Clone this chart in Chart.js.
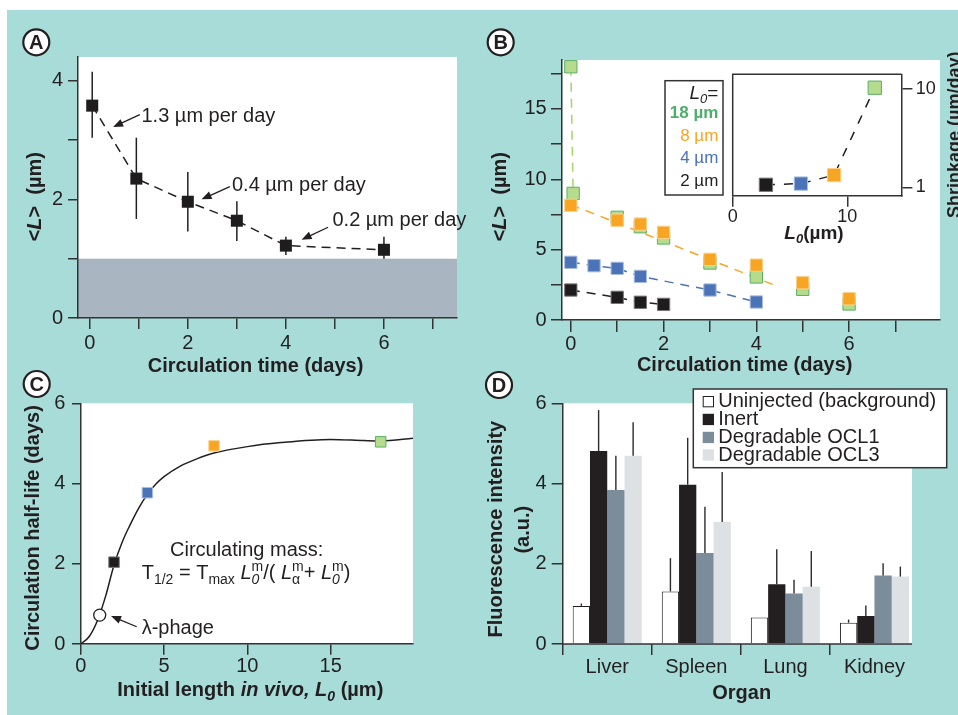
<!DOCTYPE html>
<html>
<head>
<meta charset="utf-8">
<title>Filament circulation</title>
<script src="https://cdn.jsdelivr.net/npm/chart.js@4.4.1/dist/chart.umd.min.js"></script>
<style>
  html, body { margin: 0; padding: 0; background: #ffffff; }
  #figure { position: relative; width: 958px; height: 715px; overflow: hidden; }
  #backdrop { position: absolute; left: 7px; top: 10px; width: 951px; height: 705px; background: #a8dcd8; }
  canvas { position: absolute; }
</style>
</head>
<body>
<div id="figure">
  <div id="backdrop"></div>
  <canvas id="chartA" width="480" height="385" style="left:0;top:0"></canvas>
  <canvas id="chartB" width="478" height="385" style="left:480px;top:0"></canvas>
  <canvas id="insetB" width="258" height="240" style="left:700px;top:20px"></canvas>
  <canvas id="chartC" width="480" height="350" style="left:0;top:365px"></canvas>
  <canvas id="chartD" width="478" height="350" style="left:480px;top:365px"></canvas>
</div>
<script>
// panel A - mean length vs circulation time
const daysA = [0.05, 0.95, 2, 3, 4, 6];
const lengthA = [3.58, 2.35, 1.96, 1.64, 1.22, 1.15];
const errHighA = [4.15, 3.04, 2.46, 1.97, 1.37, 1.37];
const errLowA = [3.04, 1.67, 1.46, 1.30, 1.06, 1.00];
const bandA = [0, 1];
const ratesA = ['1.3 µm per day', '0.4 µm per day', '0.2 µm per day'];
const xTicksA = [0, 1, 2, 3, 4, 5, 6, 7];
const xLabelsA = [0, 2, 4, 6];
const yTicksA = [0, 1, 2, 3, 4];
const yLabelsA = [0, 2, 4];

// panel B - one series per initial length
const days18 = [0, 0.05, 1, 1.5, 2, 3, 4, 5, 6];
const len18 = [18, 9, 7.3, 6.63, 5.83, 4.05, 3.06, 2.18, 1.14];
const days8 = [0, 1, 1.5, 2, 3, 4, 5, 6];
const len8 = [8.15, 7.09, 6.82, 6.23, 4.31, 3.9, 2.65, 1.51];
const fitDays8 = [0, 4.35];
const fitLen8 = [8.2, 2.53];
const days4 = [0, 0.5, 1, 1.5, 3, 4];
const len4 = [4.1, 3.86, 3.67, 3.1, 2.13, 1.28];
const days2 = [0, 1, 1.5, 2];
const len2 = [2.13, 1.61, 1.26, 1.11];
const legendB = ['18 µm', '8 µm', '4 µm', '2 µm'];
const xTicksB = [0, 1, 2, 3, 4, 5, 6, 7];
const xLabelsB = [0, 2, 4, 6];
const yTicksB = [0, 2.5, 5, 7.5, 10, 12.5, 15, 17.5];
const yLabelsB = [0, 5, 10, 15];

// inset of B - shrinkage rate
const insetL0 = [2.9, 5.95, 8.85, 12.4];
const insetShrink = [1.06, 1.09, 1.33, 10.3];
const insetXTicks = [0, 10];
const insetYTicks = [1, 10];

// panel C - half-life vs initial length
const curveL0 = [0, 0.5, 1, 1.5, 2, 2.5, 3, 3.5, 4, 4.5, 5, 6, 7, 8, 10, 12, 15, 17, 18, 20];
const curveHalfLife = [0, 0.18, 0.58, 1.2, 1.97, 2.55, 3.0, 3.4, 3.73, 3.98, 4.17, 4.44, 4.62, 4.76, 4.92, 5.02, 5.1, 5.07, 5.06, 5.13];
const halfLifeL0 = [2, 4, 8, 18];
const halfLifeDays = [2.04, 3.77, 4.94, 5.04];
const phageL0 = [1.14];
const phageDays = [0.72];
const xTicksC = [0, 5, 10, 15];
const yTicksC = [0, 2, 4, 6];

// panel D - organ fluorescence
const organs = ['Liver', 'Spleen', 'Lung', 'Kidney'];
const seriesD = ['Uninjected (background)', 'Inert', 'Degradable OCL1', 'Degradable OCL3'];
const uninjected = [0.95, 1.31, 0.66, 0.53];
const inert = [4.81, 3.97, 1.49, 0.70];
const ocl1 = [3.84, 2.27, 1.26, 1.71];
const ocl3 = [4.69, 3.04, 1.43, 1.68];
const errUninjected = [1.01, 2.14, 0.66, 0.61];
const errInert = [5.83, 5.14, 2.36, 0.96];
const errOcl1 = [4.69, 3.42, 1.60, 2.01];
const errOcl3 = [5.53, 4.29, 2.32, 1.93];
const yTicksD = [0, 2, 4, 6];

const FONT = '"Liberation Sans", Arial, Helvetica, sans-serif';
const INK = '#231f20';
const AXIS = '#333333';
const GREEN = '#b5dc8c', GREEN_EDGE = '#5aae6a', GREEN_LINE = '#a6d36a', GREEN_TEXT = '#4dae6b';
const ORANGE = '#f8a523';
const BLUE = '#4b73b8';
const BLACK = '#1f1c1d';

Chart.defaults.font.family = FONT;
Chart.defaults.font.size = 20;
Chart.defaults.color = INK;
Chart.defaults.animation = false;
Chart.defaults.events = [];
Chart.defaults.plugins.legend.display = false;
Chart.defaults.plugins.tooltip.enabled = false;

function pts(xs, ys) {
    return xs.map((x, i) => ({ x: x, y: ys[i] }));
}

function axis(pos, min, max, tickVals, labelVals, boxSize, tickLen, pad, fontSize, type) {
    return {
        type: type || 'linear',
        position: pos,
        min: min,
        max: max,
        afterBuildTicks: s => { s.ticks = tickVals.map(v => ({ value: v })); },
        afterFit: s => {
            if (pos === 'left' || pos === 'right') s.width = boxSize;
            else s.height = boxSize;
        },
        ticks: {
            padding: pad,
            color: INK,
            font: { size: fontSize || 20 },
            autoSkip: false,
            maxRotation: 0,
            callback: v => labelVals.includes(v) ? String(v) : ''
        },
        grid: { drawOnChartArea: false, tickLength: tickLen, color: AXIS, lineWidth: 1.5 },
        border: { color: AXIS, width: 1.5 }
    };
}

function fontOf(flags, size) {
    const small = flags.includes('_') || flags.includes('^');
    const s = small ? Math.round(size * 0.68) : size;
    return (flags.includes('i') ? 'italic ' : '') + (flags.includes('b') ? 'bold ' : '') + s + 'px ' + FONT;
}

// parts: [text, flags]  b bold, i italic, _ sub, ^ sup, k keep (no advance, next part stacks on it)
function drawRich(ctx, parts, x, y, size, align, angle, color) {
    ctx.save();
    ctx.translate(x, y);
    if (angle) ctx.rotate(angle);
    ctx.textBaseline = 'middle';
    ctx.textAlign = 'left';
    ctx.fillStyle = color || INK;
    const widths = parts.map(p => { ctx.font = fontOf(p[1] || '', size); return ctx.measureText(p[0]).width; });
    let total = 0, held = 0;
    parts.forEach((p, i) => {
        if ((p[1] || '').includes('k')) { held = widths[i]; return; }
        total += Math.max(widths[i], held);
        held = 0;
    });
    let cx = align === 'center' ? -total / 2 : align === 'right' ? -total : 0;
    held = 0;
    parts.forEach((p, i) => {
        const f = p[1] || '';
        ctx.font = fontOf(f, size);
        const dy = f.includes('_') ? size * 0.32 : f.includes('^') ? -size * 0.32 : 0;
        ctx.fillText(p[0], cx, dy);
        if (f.includes('k')) { held = widths[i]; return; }
        cx += Math.max(widths[i], held);
        held = 0;
    });
    ctx.restore();
}

function drawLetter(ctx, letter, x, y) {
    ctx.save();
    ctx.beginPath();
    ctx.arc(x, y, 13, 0, Math.PI * 2);
    ctx.fillStyle = '#ffffff';
    ctx.fill();
    ctx.lineWidth = 2.2;
    ctx.strokeStyle = INK;
    ctx.stroke();
    ctx.fillStyle = INK;
    ctx.font = 'bold 20px ' + FONT;
    ctx.textAlign = 'center';
    ctx.textBaseline = 'middle';
    ctx.fillText(letter, x, y + 1);
    ctx.restore();
}

function drawArrow(ctx, x1, y1, x2, y2) {
    const a = Math.atan2(y2 - y1, x2 - x1), L = 10, W = 4;
    ctx.save();
    ctx.strokeStyle = INK;
    ctx.fillStyle = INK;
    ctx.lineWidth = 1.3;
    ctx.beginPath();
    ctx.moveTo(x1, y1);
    ctx.lineTo(x2 - Math.cos(a) * L * 0.8, y2 - Math.sin(a) * L * 0.8);
    ctx.stroke();
    ctx.beginPath();
    ctx.moveTo(x2, y2);
    ctx.lineTo(x2 - L * Math.cos(a) + W * Math.sin(a), y2 - L * Math.sin(a) - W * Math.cos(a));
    ctx.lineTo(x2 - L * Math.cos(a) - W * Math.sin(a), y2 - L * Math.sin(a) + W * Math.cos(a));
    ctx.closePath();
    ctx.fill();
    ctx.restore();
}

function fillPlot(chart, right) {
    const a = chart.chartArea, ctx = chart.ctx;
    ctx.save();
    ctx.fillStyle = '#ffffff';
    ctx.fillRect(a.left, a.top, (right || a.right) - a.left, a.bottom - a.top);
    ctx.restore();
}

// ---------- A ----------
// where the rate notes sit, in data units: text start, arrow tail, arrow head
const notePosA = [
    [[1.055, 3.40], [1.02, 3.43], [0.476, 3.22]],
    [[2.90, 2.23], [2.857, 2.216], [2.28, 2.0]],
    [[4.95, 1.64], [4.86, 1.53], [4.32, 1.32]]
];

const panelA = {
    id: 'panelA',
    beforeDraw(chart) {
        const { ctx, chartArea: a, scales: { y } } = chart;
        fillPlot(chart);
        const top = y.getPixelForValue(bandA[1]), bot = y.getPixelForValue(bandA[0]);
        ctx.save();
        ctx.fillStyle = '#a9b5c1';
        ctx.fillRect(a.left, top, a.right - a.left, bot - top);
        ctx.restore();
    },
    beforeDatasetsDraw(chart) {
        const { ctx, scales: { x, y } } = chart;
        ctx.save();
        ctx.strokeStyle = INK;
        ctx.lineWidth = 1.5;
        daysA.forEach((d, i) => {
            ctx.beginPath();
            ctx.moveTo(x.getPixelForValue(d), y.getPixelForValue(errLowA[i]));
            ctx.lineTo(x.getPixelForValue(d), y.getPixelForValue(errHighA[i]));
            ctx.stroke();
        });
        ctx.restore();
    },
    afterDraw(chart) {
        const { ctx, scales: { x, y } } = chart;
        const px = p => [x.getPixelForValue(p[0]), y.getPixelForValue(p[1])];
        notePosA.forEach((n, i) => {
            const t = px(n[0]), f = px(n[1]), h = px(n[2]);
            drawRich(ctx, [[ratesA[i], '']], t[0], t[1], 20, 'left');
            drawArrow(ctx, f[0], f[1], h[0], h[1]);
        });
        drawRich(ctx, [['<', 'b'], ['L', 'bi'], ['>  (µm)', 'b']], 35, 196.7, 20, 'center', -Math.PI / 2);
        drawRich(ctx, [['Circulation time (days)', 'b']], 255.5, 366, 20, 'center');
        drawLetter(ctx, 'A', 36.3, 42.3);
    }
};

new Chart(document.getElementById('chartA'), {
    type: 'scatter',
    data: {
        datasets: [
            { data: pts(daysA, lengthA), showLine: true, pointRadius: 0, borderColor: INK, borderWidth: 1.5, borderDash: [9, 6], order: 2 },
            { data: pts(daysA, lengthA), pointStyle: 'rect', pointRadius: 8.5, pointBackgroundColor: BLACK, pointBorderColor: BLACK, pointBorderWidth: 0, order: 1 }
        ]
    },
    options: {
        responsive: false,
        layout: { padding: { left: 0, top: 57, right: 23, bottom: 17 } },
        scales: {
            x: axis('bottom', -0.24, 7.49, xTicksA, xLabelsA, 50, 11, 2),
            y: axis('left', 0, 4.4, yTicksA, yLabelsA, 78, 10, 5)
        }
    },
    plugins: [panelA]
});

// ---------- B ----------
const legendColorsB = [GREEN_TEXT, ORANGE, BLUE, INK];

const panelB = {
    id: 'panelB',
    beforeDraw(chart) { fillPlot(chart); },
    afterDraw(chart) {
        const ctx = chart.ctx;
        ctx.save();
        ctx.fillStyle = '#ffffff';
        ctx.strokeStyle = AXIS;
        ctx.lineWidth = 1.5;
        ctx.fillRect(185, 80.7, 58, 114.3);
        ctx.strokeRect(185, 80.7, 58, 114.3);
        ctx.restore();
        drawRich(ctx, [['L', 'i'], ['0', 'i_'], ['=', '']], 238.3, 93.3, 19, 'right');
        const rowsY = [113.3, 136.7, 158.3, 181];
        legendB.forEach((t, i) => {
            drawRich(ctx, [[t, i === 0 ? 'b' : '']], 238.3, rowsY[i], 17, 'right', 0, legendColorsB[i]);
        });
        drawRich(ctx, [['<', 'b'], ['L', 'bi'], ['>  (µm)', 'b']], 20.7, 196.7, 20, 'center', -Math.PI / 2);
        drawRich(ctx, [['Circulation time (days)', 'b']], 264.7, 365.7, 20, 'center');
        drawLetter(ctx, 'B', 20.7, 42.3);
    }
};

function squares(xs, ys, fill, edge, order) {
    return { data: pts(xs, ys), pointStyle: 'rect', pointRadius: 8.7, pointBackgroundColor: fill, pointBorderColor: edge, pointBorderWidth: 1, order: order, clip: false };
}

new Chart(document.getElementById('chartB'), {
    type: 'scatter',
    data: {
        datasets: [
            { data: pts(days18.slice(0, 2), len18.slice(0, 2)), showLine: true, pointRadius: 0, borderColor: GREEN_LINE, borderWidth: 1.5, borderDash: [9, 7], order: 10 },
            { data: pts(fitDays8, fitLen8), showLine: true, pointRadius: 0, borderColor: ORANGE, borderWidth: 1.5, borderDash: [9, 7], order: 10 },
            { data: pts(days4, len4), showLine: true, pointRadius: 0, borderColor: BLUE, borderWidth: 1.5, borderDash: [9, 7], order: 10 },
            { data: pts(days2, len2), showLine: true, pointRadius: 0, borderColor: INK, borderWidth: 1.5, borderDash: [9, 7], order: 10 },
            squares(days18, len18, GREEN, GREEN_EDGE, 5),
            squares(days8, len8, ORANGE, '#fbd08a', 4),
            squares(days4, len4, BLUE, '#a9bde0', 3),
            squares(days2, len2, BLACK, '#777777', 2)
        ]
    },
    options: {
        responsive: false,
        layout: { padding: { left: 0, top: 60, right: 18, bottom: 15 } },
        scales: {
            x: axis('bottom', -0.19, 7.96, xTicksB, xLabelsB, 50, 12, 0),
            y: axis('left', 0, 18.48, yTicksB, yLabelsB, 82, 11, 4.3)
        }
    },
    plugins: [panelB]
});

// ---------- inset of B ----------
const insetPanel = {
    id: 'insetPanel',
    beforeDraw(chart) { fillPlot(chart); },
    afterDraw(chart) {
        const { ctx, chartArea: a } = chart;
        ctx.save();
        ctx.strokeStyle = AXIS;
        ctx.lineWidth = 1.5;
        ctx.beginPath();
        ctx.moveTo(a.left, a.bottom);
        ctx.lineTo(a.left, a.top);
        ctx.lineTo(a.right, a.top);
        ctx.stroke();
        ctx.restore();
        drawRich(ctx, [['L', 'bi'], ['0', 'bi_'], ['(µm)', 'b']], 114, 213.3, 19, 'center');
        drawRich(ctx, [['Shrinkage (µm/day)', 'b']], 255, 198, 18, 'left', -Math.PI / 2);
    }
};

new Chart(document.getElementById('insetB'), {
    type: 'scatter',
    data: {
        datasets: [
            { data: pts(insetL0, insetShrink), showLine: true, pointRadius: 0, borderColor: INK, borderWidth: 1.5, borderDash: [9, 9], order: 10 },
            { data: pts(insetL0, insetShrink), pointStyle: 'rect', pointRadius: 9.4, pointBorderWidth: 1, clip: false,
              pointBackgroundColor: [BLACK, BLUE, ORANGE, GREEN], pointBorderColor: ['#777777', '#a9bde0', '#fbd08a', GREEN_EDGE], order: 1 }
        ]
    },
    options: {
        responsive: false,
        layout: { padding: { left: 32.7, top: 54.3, right: 11.3, bottom: 24 } },
        scales: {
            x: axis('bottom', 0, 14.75, insetXTicks, insetXTicks, 40, 10.7, 0, 18),
            y: axis('right', 0.815, 14.1, insetYTicks, insetYTicks, 45, 10.7, 3.3, 18, 'logarithmic')
        }
    },
    plugins: [insetPanel]
});

// ---------- C ----------
const formulaC = [['T', ''], ['1/2', '_'], [' = T', ''], ['max', '_'], [' ', ''], ['L', 'i'], ['0', 'i_k'], ['m', '^'],
    ['/( ', ''], ['L', 'i'], ['α', '_k'], ['m', '^'], ['+ ', ''], ['L', 'i'], ['0', 'i_k'], ['m', '^'], [')', '']];

const panelC = {
    id: 'panelC',
    beforeDraw(chart) { fillPlot(chart); },
    afterDraw(chart) {
        const { ctx, scales: { x, y } } = chart;
        drawRich(ctx, [['Circulating mass:', '']], x.getPixelForValue(9.96), y.getPixelForValue(2.34), 20, 'center');
        drawRich(ctx, formulaC, x.getPixelForValue(3.66), y.getPixelForValue(1.75), 20, 'left');
        drawRich(ctx, [['λ-phage', '']], x.getPixelForValue(3.66), y.getPixelForValue(0.39), 20, 'left');
        drawArrow(ctx, x.getPixelForValue(3.36), y.getPixelForValue(0.43), x.getPixelForValue(1.82), y.getPixelForValue(0.70));
        drawRich(ctx, [['Circulation half-life (days)', 'b']], 33.3, 163, 20, 'center', -Math.PI / 2);
        drawRich(ctx, [['Initial length ', 'b'], ['in vivo, L', 'bi'], ['0', 'bi_'], [' (µm)', 'b']], 250.3, 325.7, 20, 'center');
        drawLetter(ctx, 'C', 36.7, 19);
    }
};

new Chart(document.getElementById('chartC'), {
    type: 'scatter',
    data: {
        datasets: [
            { data: pts(curveL0, curveHalfLife), showLine: true, pointRadius: 0, borderColor: INK, borderWidth: 1.5, cubicInterpolationMode: 'monotone', order: 10 },
            { data: pts(halfLifeL0, halfLifeDays), pointStyle: 'rect', pointRadius: 7.4, pointBorderWidth: 1, clip: false,
              pointBackgroundColor: [BLACK, BLUE, ORANGE, GREEN], pointBorderColor: ['#777777', '#a9bde0', '#fbd08a', GREEN_EDGE], order: 2 },
            { data: pts(phageL0, phageDays), pointStyle: 'circle', pointRadius: 6, pointBackgroundColor: '#ffffff', pointBorderColor: INK, pointBorderWidth: 1.3, order: 1 }
        ]
    },
    options: {
        responsive: false,
        layout: { padding: { left: 0, top: 38.3, right: 67, bottom: 21 } },
        scales: {
            x: axis('bottom', 0, 19.94, xTicksC, xTicksC, 50, 10.7, 0),
            y: axis('left', 0, 6, yTicksC, yTicksC, 80.7, 8.7, 6.7)
        }
    },
    plugins: [panelC]
});

// ---------- D ----------
const colorsD = ['#ffffff', '#231f20', '#7b8c9b', '#dde1e4'];
const errD = [errUninjected, errInert, errOcl1, errOcl3];

function plotRightD(chart) {
    const meta = chart.getDatasetMeta(seriesD.length - 1);
    const el = meta.data[organs.length - 1];
    return el.x + el.width / 2 + 3;
}

const panelD = {
    id: 'panelD',
    beforeDraw(chart) { fillPlot(chart, plotRightD(chart)); },
    afterDatasetsDraw(chart) {
        const { ctx, chartArea: a, scales: { y } } = chart;
        ctx.save();
        ctx.strokeStyle = AXIS;
        ctx.lineWidth = 1.5;
        ctx.beginPath();
        ctx.moveTo(a.left, a.bottom);
        ctx.lineTo(plotRightD(chart), a.bottom);
        ctx.stroke();
        ctx.strokeStyle = '#2b2b2b';
        ctx.lineWidth = 1.4;
        errD.forEach((errs, di) => {
            chart.getDatasetMeta(di).data.forEach((bar, i) => {
                ctx.beginPath();
                ctx.moveTo(bar.x, bar.y);
                ctx.lineTo(bar.x, y.getPixelForValue(errs[i]));
                ctx.stroke();
            });
        });
        ctx.restore();
    },
    afterDraw(chart) {
        const ctx = chart.ctx;
        ctx.save();
        ctx.fillStyle = '#ffffff';
        ctx.strokeStyle = AXIS;
        ctx.lineWidth = 1.5;
        ctx.fillRect(213.3, 24, 253.4, 78.7);
        ctx.strokeRect(213.3, 24, 253.4, 78.7);
        const rows = [36.7, 54.5, 72.5, 90];
        seriesD.forEach((name, i) => {
            ctx.fillStyle = colorsD[i];
            ctx.fillRect(222.7, rows[i] - 5.7, 11.3, 11.3);
            if (i === 0) {
                ctx.strokeStyle = INK;
                ctx.lineWidth = 1;
                ctx.strokeRect(223.2, rows[i] - 5.2, 10.3, 10.3);
            }
            drawRich(ctx, [[name, '']], 238.3, rows[i], 20, 'left');
        });
        ctx.restore();
        drawRich(ctx, [['Fluorescence intensity', 'b']], 16.7, 164.2, 20, 'center', -Math.PI / 2);
        drawRich(ctx, [['(a.u.)', 'b']], 43.3, 164.7, 20, 'center', -Math.PI / 2);
        drawRich(ctx, [['Organ', 'b']], 261.7, 328.3, 20, 'center');
        drawLetter(ctx, 'D', 19, 20);
    }
};

new Chart(document.getElementById('chartD'), {
    type: 'bar',
    data: {
        labels: organs,
        datasets: [uninjected, inert, ocl1, ocl3].map((vals, i) => ({
            label: seriesD[i],
            data: vals,
            backgroundColor: colorsD[i],
            borderColor: INK,
            borderWidth: i === 0 ? 1 : 0,
            categoryPercentage: 0.775,
            barPercentage: 1
        }))
    },
    options: {
        responsive: false,
        layout: { padding: { left: 0, top: 38.3, right: 39, bottom: 21 } },
        scales: {
            x: {
                type: 'category',
                offset: true,
                afterFit: s => { s.height = 50; },
                grid: {
                    offset: true,
                    drawOnChartArea: false,
                    tickLength: 11,
                    lineWidth: 1.5,
                    // the closing boundary after Kidney gets the scale context, not a tick one
                    color: c => c.type === 'tick' ? AXIS : 'rgba(0,0,0,0)'
                },
                border: { display: false },
                ticks: { padding: 0, color: INK, font: { size: 20 }, maxRotation: 0, autoSkip: false }
            },
            y: axis('left', 0, 6, yTicksD, yTicksD, 82.7, 11, 5)
        }
    },
    plugins: [panelD]
});
</script>
</body>
</html>
